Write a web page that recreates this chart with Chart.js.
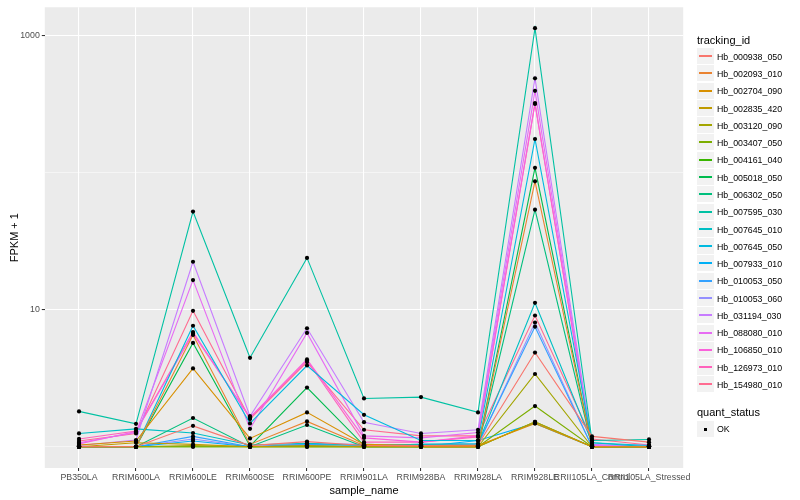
<!DOCTYPE html>
<html><head><meta charset="utf-8">
<script src="https://cdn.jsdelivr.net/npm/chart.js@4.4.1/dist/chart.umd.min.js"></script>
<style>
html,body{margin:0;padding:0;background:#fff;}
#wrap{position:relative;width:800px;height:500px;overflow:hidden;}
#c{position:absolute;left:0;top:0;}
.lg{position:absolute;font-family:"Liberation Sans",Arial,sans-serif;color:#000;white-space:nowrap;}
.ttl{font-size:11px;line-height:14px;height:14px;}
.key{position:absolute;width:17px;height:17px;background:#F2F2F2;box-sizing:border-box;border-bottom:1px solid #fff;}
.kl{position:absolute;left:2px;width:13px;height:1.6px;top:7.4px;}
.txt{font-size:8.8px;line-height:12px;height:12px;}
</style>
</head><body>
<div id="wrap"><canvas id="c" width="800" height="500"></canvas><div id="legend"></div></div>
<script>
// ---- data ----
const categories = ["PB350LA","RRIM600LA","RRIM600LE","RRIM600SE","RRIM600PE","RRIM901LA","RRIM928BA","RRIM928LA","RRIM928LE","RRII105LA_Control","RRII105LA_Stressed"];
const trackingIds = ["Hb_000938_050","Hb_002093_010","Hb_002704_090","Hb_002835_420","Hb_003120_090","Hb_003407_050","Hb_004161_040","Hb_005018_050","Hb_006302_050","Hb_007595_030","Hb_007645_010","Hb_007645_050","Hb_007933_010","Hb_010053_050","Hb_010053_060","Hb_031194_030","Hb_088080_010","Hb_106850_010","Hb_126973_010","Hb_154980_010"];
const seriesColors = ["#F8766D","#EA8331","#D89000","#C09B00","#A3A500","#7CAE00","#39B600","#00BB4E","#00BF7D","#00C1A3","#00BFC4","#00BAE0","#00B0F6","#35A2FF","#9590FF","#C77CFF","#E76BF3","#FA62DB","#FF62BC","#FF6C91"];
// FPKM + 1 per sample, in category order
const Hb_000938_050 = [1.0, 1.0, 1.42, 1.02, 1.09, 1.02, 1.02, 1.03, 4.86, 1.19, 1.08];
const Hb_002093_010 = [1.0, 1.0, 6.53, 1.04, 1.53, 1.02, 1.0, 1.0, 86, 1.0, 1.0];
const Hb_002704_090 = [1.03, 1.10, 3.72, 1.15, 1.78, 1.04, 1.02, 1.02, 1.48, 1.0, 1.0];
const Hb_002835_420 = [1.0, 1.07, 1.04, 1.0, 1.02, 1.0, 1.0, 1.0, 1.52, 1.0, 1.0];
const Hb_003120_090 = [1.0, 1.0, 1.02, 1.0, 1.0, 1.0, 1.0, 1.0, 3.39, 1.0, 1.0];
const Hb_003407_050 = [1.0, 1.0, 1.0, 1.0, 1.0, 1.0, 1.0, 1.0, 1.98, 1.0, 1.0];
const Hb_004161_040 = [1.0, 1.0, 1.0, 1.0, 1.0, 1.0, 1.0, 1.0, 1.52, 1.0, 1.0];
const Hb_005018_050 = [1.0, 1.0, 5.71, 1.01, 2.70, 1.02, 1.0, 1.0, 108, 1.0, 1.0];
const Hb_006302_050 = [1.0, 1.0, 1.62, 1.0, 1.44, 1.0, 1.0, 1.0, 53.5, 1.0, 1.0];
const Hb_007595_030 = [1.81, 1.47, 51.8, 4.45, 23.8, 2.25, 2.30, 1.78, 1124, 1.11, 1.13];
const Hb_007645_010 = [1.25, 1.35, 1.26, 1.03, 1.06, 1.02, 1.04, 1.05, 11.2, 1.07, 1.0];
const Hb_007645_050 = [1.0, 1.0, 7.62, 1.48, 3.91, 1.71, 1.11, 1.11, 175, 1.07, 1.02];
const Hb_007933_010 = [1.0, 1.0, 1.10, 1.0, 1.02, 1.0, 1.0, 1.11, 1.48, 1.0, 1.0];
const Hb_010053_050 = [1.0, 1.0, 1.19, 1.0, 1.04, 1.02, 1.04, 1.05, 7.5, 1.0, 1.0];
const Hb_010053_060 = [1.0, 1.0, 1.14, 1.0, 1.05, 1.04, 1.02, 1.03, 8.05, 1.0, 1.0];
const Hb_031194_030 = [1.02, 1.12, 22.3, 1.67, 7.3, 1.51, 1.25, 1.33, 485, 1.04, 1.0];
const Hb_088080_010 = [1.07, 1.27, 16.4, 1.35, 6.75, 1.20, 1.16, 1.27, 393, 1.02, 1.03];
const Hb_106850_010 = [1.05, 1.29, 6.67, 1.64, 4.33, 1.16, 1.08, 1.20, 320, 1.02, 1.0];
const Hb_126973_010 = [1.14, 1.30, 6.85, 1.62, 4.25, 1.08, 1.08, 1.18, 315, 1.0, 1.0];
const Hb_154980_010 = [1.10, 1.25, 9.79, 1.59, 4.14, 1.33, 1.20, 1.20, 9.05, 1.14, 1.03];
const seriesValues = [Hb_000938_050,Hb_002093_010,Hb_002704_090,Hb_002835_420,Hb_003120_090,Hb_003407_050,Hb_004161_040,Hb_005018_050,Hb_006302_050,Hb_007595_030,Hb_007645_010,Hb_007645_050,Hb_007933_010,Hb_010053_050,Hb_010053_060,Hb_031194_030,Hb_088080_010,Hb_106850_010,Hb_126973_010,Hb_154980_010];
const yTicks = [1, 10, 100, 1000];
const yTickLabels = ["", "10", "", "1000"];
const quantStatus = ["OK"];

// ---- chart ----
const FONT = '"Liberation Sans", Arial, sans-serif';
const panelBg = {
  id: 'panelBg',
  beforeDraw(chart) {
    const a = chart.chartArea, c = chart.ctx;
    c.save(); c.fillStyle = '#EBEBEB';
    c.fillRect(a.left, a.top, a.right - a.left, a.bottom - a.top);
    c.restore();
  }
};
const pointsOnTop = {
  id: 'pointsOnTop',
  afterDatasetsDraw(chart) {
    const c = chart.ctx;
    c.save(); c.fillStyle = '#000';
    chart.data.datasets.forEach((d, i) => {
      chart.getDatasetMeta(i).data.forEach(el => {
        c.beginPath();
        c.arc(el.x, el.y, 2.1, 0, Math.PI * 2);
        c.fill();
      });
    });
    c.restore();
  }
};

new Chart(document.getElementById('c'), {
  type: 'line',
  data: {
    datasets: trackingIds.map((id, i) => ({
      label: id,
      data: seriesValues[i].map((v, j) => ({ x: j, y: v })),
      borderColor: seriesColors[i],
      backgroundColor: seriesColors[i],
      borderWidth: 1.1,
      pointRadius: 0,
      fill: false,
      tension: 0
    }))
  },
  options: {
    responsive: false,
    animation: false,
    layout: { padding: { left: 0, right: 116.8, top: 4, bottom: 0 } },
    plugins: { legend: { display: false }, tooltip: { enabled: false } },
    scales: {
      x: {
        type: 'linear',
        min: -0.6,
        max: categories.length - 1 + 0.6,
        afterBuildTicks: s => { s.ticks = categories.map((c, i) => ({ value: i })); },
        afterFit: s => { s.height = 32; },
        ticks: {
          autoSkip: false, maxRotation: 0, minRotation: 0,
          callback: (v) => categories[v],
          color: '#4D4D4D', font: { family: FONT, size: 8.8 }, padding: 1
        },
        grid: { color: '#FFFFFF', lineWidth: 1.07, tickColor: '#333333', tickLength: 3 },
        border: { display: false },
        title: { display: true, text: 'sample_name', color: '#000', font: { family: FONT, size: 11 }, padding: { top: 0, bottom: 2 } }
      },
      y: {
        type: 'logarithmic',
        min: 0.704,
        max: 1597,
        afterBuildTicks: s => { s.ticks = yTicks.map(v => ({ value: v })); },
        afterFit: s => { s.width = 44.8; },
        ticks: {
          autoSkip: false,
          callback: (v, i) => yTickLabels[i],
          color: '#4D4D4D', font: { family: FONT, size: 8.8 }, padding: 2
        },
        grid: {
          color: '#FFFFFF',
          lineWidth: ctx => (yTickLabels[ctx.index] ? 1.07 : 0.53),
          tickColor: ctx => (yTickLabels[ctx.index] ? '#333333' : 'rgba(0,0,0,0)'),
          tickLength: 3
        },
        border: { display: false },
        title: { display: true, text: 'FPKM + 1', color: '#000', font: { family: FONT, size: 11 }, padding: { top: 8, bottom: 0 } }
      }
    }
  },
  plugins: [panelBg, pointsOnTop]
});

// ---- legend (HTML text) ----
const lg = document.getElementById('legend');
function add(html) { lg.insertAdjacentHTML('beforeend', html); }
add(`<div class="lg ttl" style="left:697px;top:33px;">tracking_id</div>`);
const step = 17.28, first = 56.7;
trackingIds.forEach((id, i) => {
  const cy = first + i * step;
  const top = Math.round(cy - step / 2);
  add(`<div class="key" style="left:697px;top:${top}px;"><div class="kl" style="background-color:${seriesColors[i]}"></div></div>`);
  add(`<div class="lg txt" style="left:717px;top:${Math.round(cy - 6)}px;">${id}</div>`);
});
add(`<div class="lg ttl" style="left:697px;top:405px;">quant_status</div>`);
quantStatus.forEach((q, i) => {
  const cy = 429.3 + i * step;
  add(`<div class="key" style="left:697px;top:${Math.round(cy - step / 2)}px;"><div style="position:absolute;left:7px;top:7px;width:3px;height:3px;background:#000"></div></div>`);
  add(`<div class="lg txt" style="left:717px;top:${Math.round(cy - 6)}px;">${q}</div>`);
});
</script>
</body></html>
